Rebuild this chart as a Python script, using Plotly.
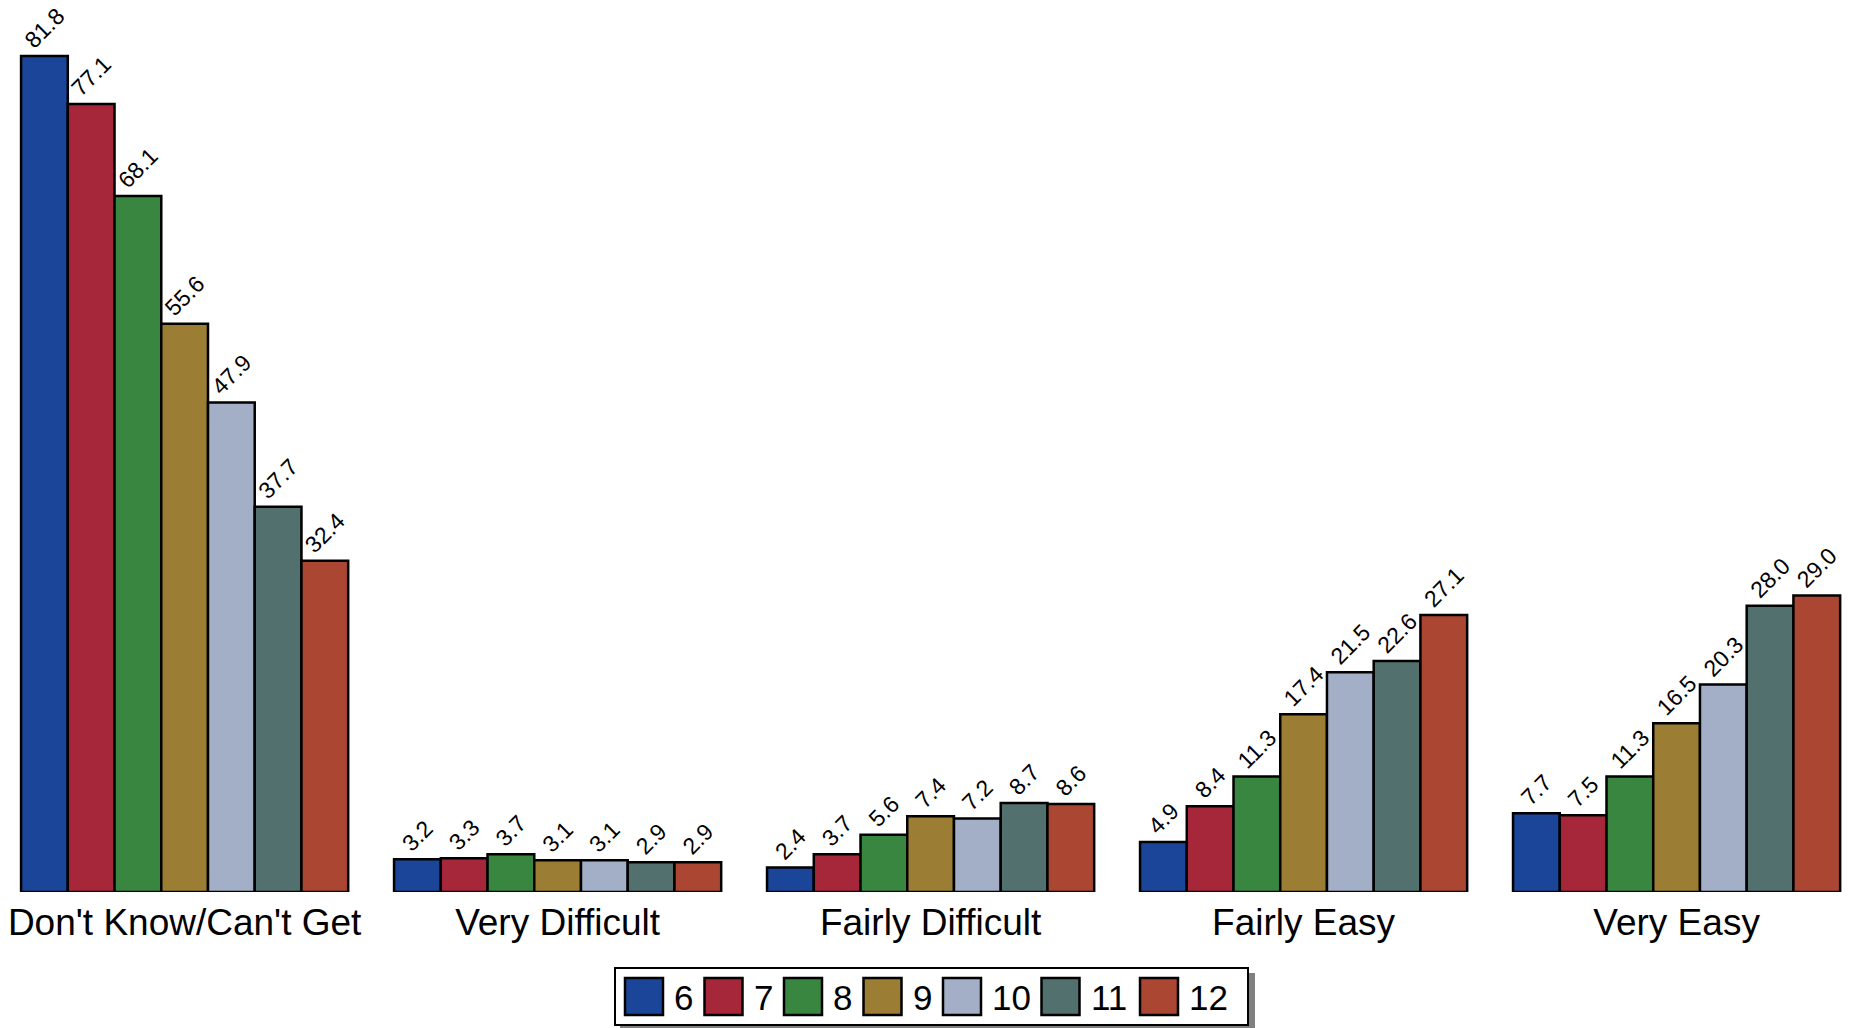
import plotly.graph_objects as go

categories = ["Don't Know/Can't Get", "Very Difficult", "Fairly Difficult", "Fairly Easy", "Very Easy"]
grades = ["6", "7", "8", "9", "10", "11", "12"]

grade_6 = [81.8, 3.2, 2.4, 4.9, 7.7]
grade_7 = [77.1, 3.3, 3.7, 8.4, 7.5]
grade_8 = [68.1, 3.7, 5.6, 11.3, 11.3]
grade_9 = [55.6, 3.1, 7.4, 17.4, 16.5]
grade_10 = [47.9, 3.1, 7.2, 21.5, 20.3]
grade_11 = [37.7, 2.9, 8.7, 22.6, 28.0]
grade_12 = [32.4, 2.9, 8.6, 27.1, 29.0]

series = [grade_6, grade_7, grade_8, grade_9, grade_10, grade_11, grade_12]
colors = ["#1a4599", "#a6263a", "#398640", "#9b7d34", "#a2afc6", "#52716e", "#aa4632"]

W, H = 1856, 1028
PLOT_H = 892  # plot area height in px (top margin 0)
FONT = "Liberation Sans, Arial, sans-serif"


def px(x):
    return x / W


def py(y):
    return (PLOT_H - y) / PLOT_H


fig = go.Figure()
for name, vals, col in zip(grades, series, colors):
    fig.add_trace(go.Bar(
        x=categories, y=vals, name=name,
        marker=dict(color=col, line=dict(color="black", width=2.5)),
        texttemplate="%{y:.1f}",
        textposition="outside",
        textangle=-45,
        textfont=dict(size=23, color="black", family=FONT),
        constraintext="none",
        cliponaxis=False,
        showlegend=False,
    ))

# legend drawn by hand (plotly bar legend swatches are too small)
shapes = [
    dict(type="rect", xref="paper", yref="paper",
         x0=px(620), x1=px(1255), y0=py(1032), y1=py(973),
         fillcolor="#808080", line=dict(width=0), layer="above"),
    dict(type="rect", xref="paper", yref="paper",
         x0=px(615), x1=px(1248), y0=py(1025), y1=py(968),
         fillcolor="white", line=dict(color="black", width=2), layer="above"),
]
annotations = []
x0 = 625
for name, col in zip(grades, colors):
    shapes.append(dict(type="rect", xref="paper", yref="paper",
                       x0=px(x0), x1=px(x0 + 38), y0=py(1015), y1=py(978),
                       fillcolor=col, line=dict(color="black", width=2.5), layer="above"))
    annotations.append(dict(xref="paper", yref="paper", x=px(x0 + 47), y=py(997),
                            text=name, showarrow=False, xanchor="left", yanchor="middle",
                            font=dict(size=35, color="black", family=FONT)))
    x0 += 79.5 if len(name) == 1 else 98.5

fig.update_layout(
    width=W, height=H,
    barmode="group", bargap=0.123, bargroupgap=0,
    paper_bgcolor="white", plot_bgcolor="white",
    margin=dict(l=0, r=0, t=0, b=H - PLOT_H),
    xaxis=dict(range=[-0.495, 4.481], showline=False, showgrid=False, ticks="",
               ticklabelstandoff=5,
               tickfont=dict(size=37, color="black", family=FONT)),
    yaxis=dict(range=[0, 87.28], visible=False),
    shapes=shapes,
    annotations=annotations,
    showlegend=False,
)

fig.write_html("out.html", config={"displayModeBar": False},
               post_script="document.body.style.margin = '0';")
